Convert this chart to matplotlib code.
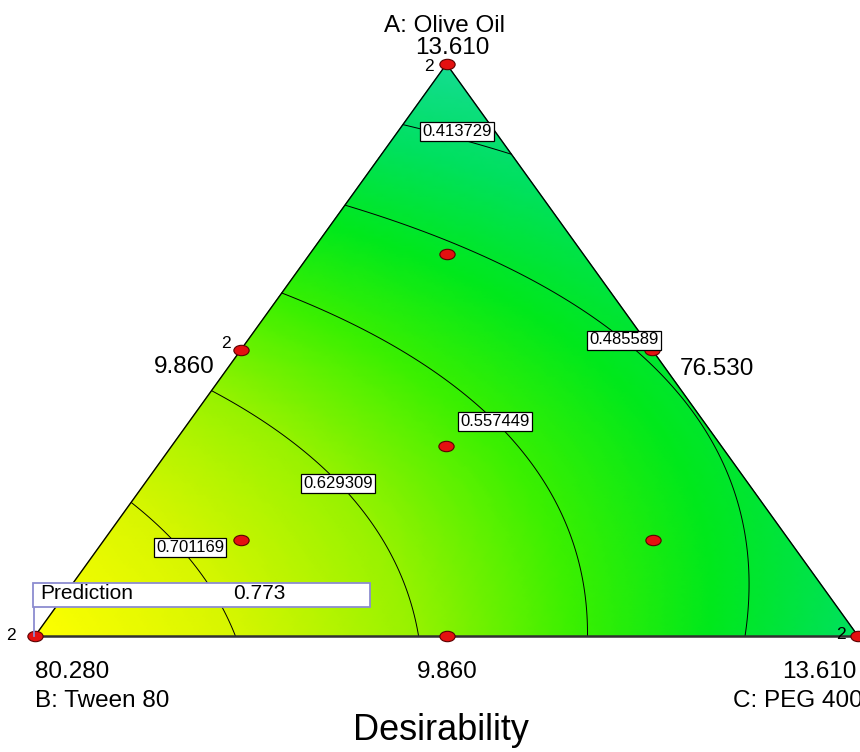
import numpy as np
import matplotlib
matplotlib.use("Agg")
import matplotlib.pyplot as plt
import matplotlib.tri as mtri
from matplotlib.colors import LinearSegmentedColormap
from matplotlib.path import Path
from matplotlib.transforms import Affine2D
from matplotlib.patches import Rectangle
from matplotlib.lines import Line2D

plt.rcParams['font.family'] = ['Liberation Sans', 'DejaVu Sans']

# design points (pseudo-component fractions) and desirability
mix_a = [1.0, 0.0, 0.0, 0.5, 0.5, 0.0, 0.333, 0.667, 0.167, 0.167]
mix_b = [0.0, 1.0, 0.0, 0.5, 0.0, 0.5, 0.333, 0.167, 0.667, 0.167]
mix_c = [0.0, 0.0, 1.0, 0.0, 0.5, 0.5, 0.333, 0.167, 0.167, 0.667]
desir = [0.355, 0.773, 0.431, 0.604, 0.483, 0.622, 0.579, 0.494, 0.675, 0.523]
replicates = [2, 2, 2, 2, 1, 1, 1, 1, 1, 1]

levels = [0.413729, 0.485589, 0.557449, 0.629309, 0.701169]
prediction = 0.773

vertex_names = ["A: Olive Oil", "B: Tween 80", "C: PEG 400"]
vertex_vals = ["13.610", "80.280", "13.610"]
edge_vals = ["9.860", "76.530", "9.860"]   # AB, AC, BC midpoints
title = "Desirability"

W, H = 860, 752


def fx(px):
    return px / W


def fy(py):
    return 1 - py / H


def to_xy(a, b, c):
    a, b, c = np.asarray(a), np.asarray(b), np.asarray(c)
    return c + a / 2.0, a


# fit quadratic Scheffe model to the design points
A, B, C = np.array(mix_a), np.array(mix_b), np.array(mix_c)
X = np.column_stack([A, B, C, A * B, A * C, B * C])
coef, *_ = np.linalg.lstsq(X, np.array(desir), rcond=None)


def model(a, b, c):
    return (coef[0] * a + coef[1] * b + coef[2] * c
            + coef[3] * a * b + coef[4] * a * c + coef[5] * b * c)


n = 140
ii, jj = np.meshgrid(np.arange(n + 1), np.arange(n + 1))
keep = ii + jj <= n
ga = ii[keep] / n
gc = jj[keep] / n
gb = 1 - ga - gc
gx, gy = to_xy(ga, gb, gc)
tri = mtri.Triangulation(gx, gy)
z = model(ga, gb, gc)

cmap = LinearSegmentedColormap.from_list("de", [
    (0.00, "#14dc92"),
    (0.18, "#00e060"),
    (0.35, "#00e81c"),
    (0.50, "#3cf000"),
    (0.66, "#98f200"),
    (0.83, "#d8f600"),
    (1.00, "#ffff00"),
])

fig = plt.figure(figsize=(8.6, 7.52), dpi=100)
ax = fig.add_axes([fx(35), fy(636), (858 - 35) / W, (636 - 64) / H])
ax.set_xlim(0, 1)
ax.set_ylim(0, 1)
ax.axis('off')

ax.tripcolor(tri, z, shading='gouraud', cmap=cmap, vmin=0.355, vmax=0.775)
ax.tricontour(tri, z, levels=levels, colors='black', linewidths=0.7)

# triangle outline
ax.plot([0, 0.5, 1], [0, 1, 0], color='black', lw=1.0, clip_on=False)
ax.plot([0, 1], [0, 0], color='#303030', lw=1.8, clip_on=False)

# contour labels
label_px = [(457, 131), (624, 340), (495, 421), (338, 483), (190, 547)]
for lev, (px, py) in zip(levels, label_px):
    fig.text(fx(px), fy(py), f"{lev:.6f}", fontsize=12, ha='center', va='center',
             bbox=dict(boxstyle='square,pad=0.12', fc='white', ec='black', lw=0.9),
             zorder=5)

# design points
ell = Path.unit_circle().transformed(Affine2D().scale(1.0, 0.68))
px_pts, py_pts = to_xy(A, B, C)
ax.plot(px_pts, py_pts, ls='none', marker=ell, markersize=11,
        mfc='#e41010', mec='#5a0000', mew=0.8, clip_on=False, zorder=6)

rep_offsets = [(-13, -2), (-17, 0), (-12, 1), (-11, 5)]
for k, (x0, y0) in enumerate(zip(px_pts, py_pts)):
    if replicates[k] > 1:
        dx, dy = rep_offsets[k]
        ax.annotate(str(replicates[k]), (x0, y0), xytext=(dx, dy),
                    textcoords='offset points', fontsize=12.5,
                    ha='center', va='center', annotation_clip=False, zorder=7)

# axis texts
fig.text(fx(445), fy(32), vertex_names[0], fontsize=17.5, ha='center', va='baseline')
fig.text(fx(452), fy(54), vertex_vals[0], fontsize=17.5, ha='center', va='baseline')
fig.text(fx(215), fy(373), edge_vals[0], fontsize=17.5, ha='right', va='baseline')
fig.text(fx(680), fy(375), edge_vals[1], fontsize=17.5, ha='left', va='baseline')
fig.text(fx(35), fy(678), vertex_vals[1], fontsize=17.5, ha='left', va='baseline')
fig.text(fx(35), fy(707), vertex_names[1], fontsize=17.5, ha='left', va='baseline')
fig.text(fx(447), fy(678), edge_vals[2], fontsize=17.5, ha='center', va='baseline')
fig.text(fx(857), fy(678), vertex_vals[2], fontsize=17.5, ha='right', va='baseline')
fig.text(fx(863), fy(707), vertex_names[2], fontsize=17.5, ha='right', va='baseline')
fig.text(fx(441), fy(740), title, fontsize=26, ha='center', va='baseline')

# prediction flag
edge_col = '#8c8cd0'
fig.patches.append(Rectangle((fx(33), fy(607)), (370 - 33) / W, (607 - 583) / H,
                             transform=fig.transFigure, fc='white', ec=edge_col,
                             lw=1.3, zorder=8))
fig.lines.append(Line2D([fx(34), fx(34)], [fy(607), fy(636)], transform=fig.transFigure,
                        color=edge_col, lw=1.3, zorder=8))
fig.text(fx(40), fy(599), "Prediction", fontsize=15, ha='left', va='baseline', zorder=9)
fig.text(fx(233), fy(599), f"{prediction:.3f}", fontsize=15, ha='left', va='baseline', zorder=9)

fig.savefig("out.png", dpi=100)
